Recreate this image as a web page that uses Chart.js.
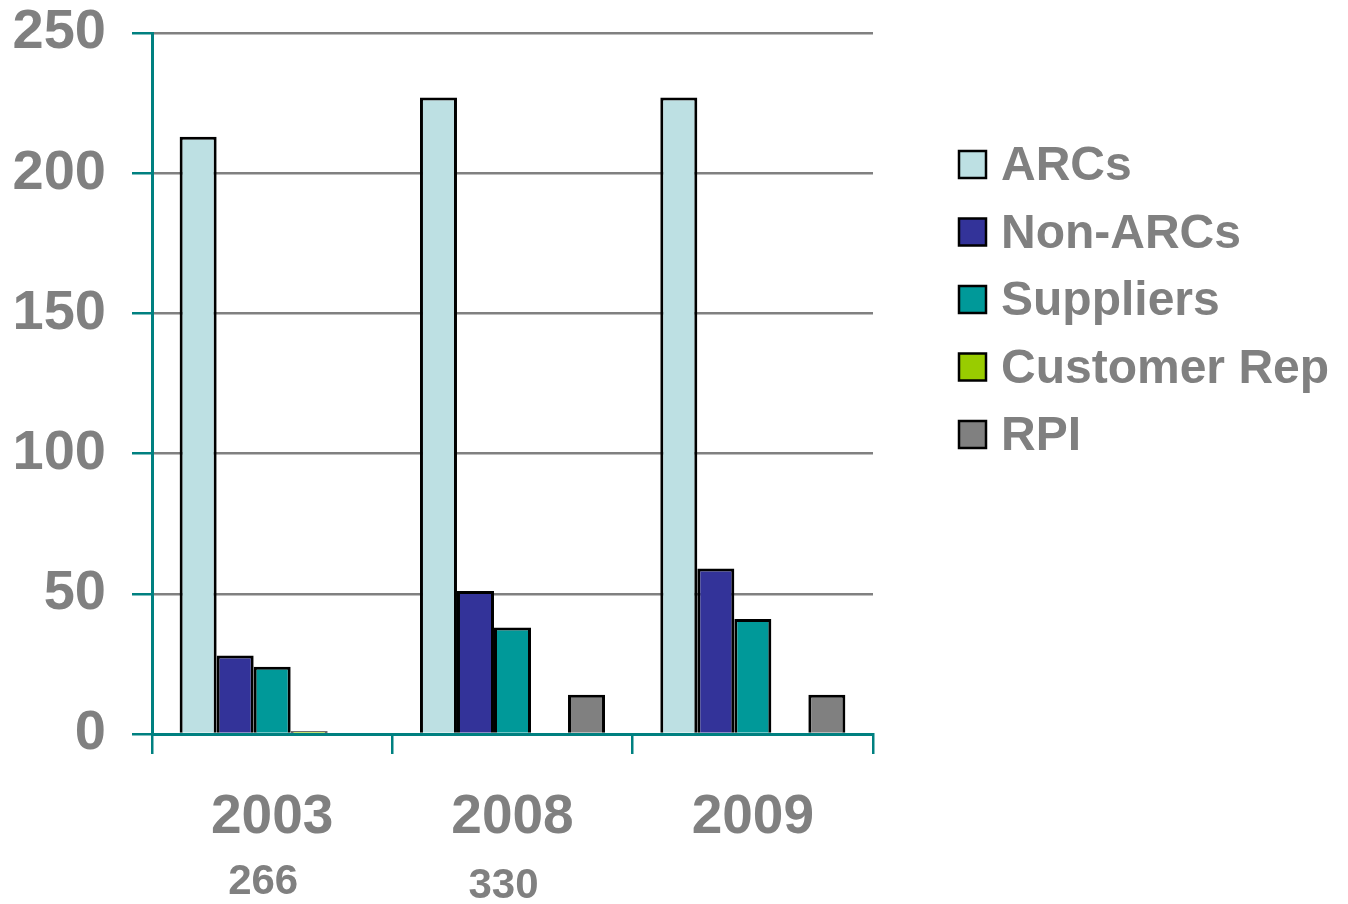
<!DOCTYPE html>
<html>
<head>
<meta charset="utf-8">
<style>
  html, body { margin: 0; padding: 0; background: #fff; }
  #wrap { width: 1348px; height: 904px; }
</style>
<script src="https://cdn.jsdelivr.net/npm/chart.js@4"></script>
</head>
<body>
<div id="wrap"><canvas id="chart" width="1348" height="904"></canvas></div>
<script>
'use strict';

const years = ['2003', '2008', '2009'];
const totals = ['266', '330', ''];

const arcs = [213, 227, 227];
const nonArcs = [28, 51, 59];
const suppliers = [24, 38, 41];
const customerRep = [1, 0, 0];
const rpi = [0, 14, 14];

const yTicks = [0, 50, 100, 150, 200, 250];

const grey = '#808080';
const teal = '#008080';
const font = 'Liberation Sans, Arial, sans-serif';

// totals under the year labels + legend on the right
const extras = {
  id: 'extras',
  afterDraw(chart) {
    const ctx = chart.ctx;
    const x = chart.scales.x;
    ctx.save();
    ctx.fillStyle = grey;
    ctx.font = 'bold 42px ' + font;
    ctx.textAlign = 'center';
    ctx.textBaseline = 'middle';
    totals.forEach((t, i) => {
      ctx.fillText(t, x.getPixelForValue(i) - 9, 882 + i * 4);
    });

    // legend
    ctx.font = 'bold 48px ' + font;
    ctx.textAlign = 'left';
    chart.data.datasets.forEach((ds, i) => {
      const y = 165 + i * 67.5;
      ctx.fillStyle = ds.backgroundColor;
      ctx.fillRect(959, y - 14, 27, 27);
      ctx.strokeStyle = '#000';
      ctx.lineWidth = 2.5;
      ctx.strokeRect(959, y - 14, 27, 27);
      ctx.fillStyle = grey;
      ctx.fillText(ds.label, 1001, y + 2);
    });
    ctx.restore();
  }
};

const ctx = document.getElementById('chart').getContext('2d');

const chart = new Chart(ctx, {
  type: 'bar',
  data: {
    labels: years,
    datasets: [
      { label: 'ARCs', data: arcs, backgroundColor: '#BDE0E3' },
      { label: 'Non-ARCs', data: nonArcs, backgroundColor: '#333399' },
      { label: 'Suppliers', data: suppliers, backgroundColor: '#009999' },
      { label: 'Customer Rep', data: customerRep, backgroundColor: '#99CC00' },
      { label: 'RPI', data: rpi, backgroundColor: grey },
    ],
  },
  options: {
    responsive: false,
    animation: false,
    devicePixelRatio: 1,
    datasets: {
      bar: {
        borderColor: '#000',
        borderWidth: 3,
        barPercentage: 1,
        categoryPercentage: 0.77,
      },
    },
    layout: { padding: { top: 33, right: 475, bottom: 0, left: 10 } },
    plugins: {
      legend: { display: false },
      tooltip: { enabled: false },
    },
    scales: {
      x: {
        offset: true,
        afterFit: axis => {
          axis.height = 170;
          axis.paddingLeft = 0;
          axis.paddingRight = 0;
        },
        grid: {
          offset: true,
          drawOnChartArea: true,
          color: c => (c.index === years.length ? grey : 'rgba(0,0,0,0)'),
          tickColor: teal,
          tickLength: 20,
          lineWidth: 2.5,
        },
        border: { color: teal, width: 3 },
        ticks: {
          color: grey,
          font: { family: font, size: 55, weight: 'bold' },
          padding: 31,
        },
      },
      y: {
        min: 0,
        max: 250,
        afterBuildTicks: axis => {
          axis.ticks = yTicks.map(v => ({ value: v }));
        },
        afterFit: axis => {
          axis.width = 142;
          axis.paddingTop = 0;
          axis.paddingBottom = 0;
        },
        grid: {
          color: grey,
          tickColor: teal,
          tickLength: 20,
          lineWidth: 2.5,
        },
        border: { color: teal, width: 3 },
        ticks: {
          color: grey,
          font: { family: font, size: 56, weight: 'bold' },
          padding: 26,
        },
      },
    },
  },
  plugins: [extras],
});
</script>
</body>
</html>
